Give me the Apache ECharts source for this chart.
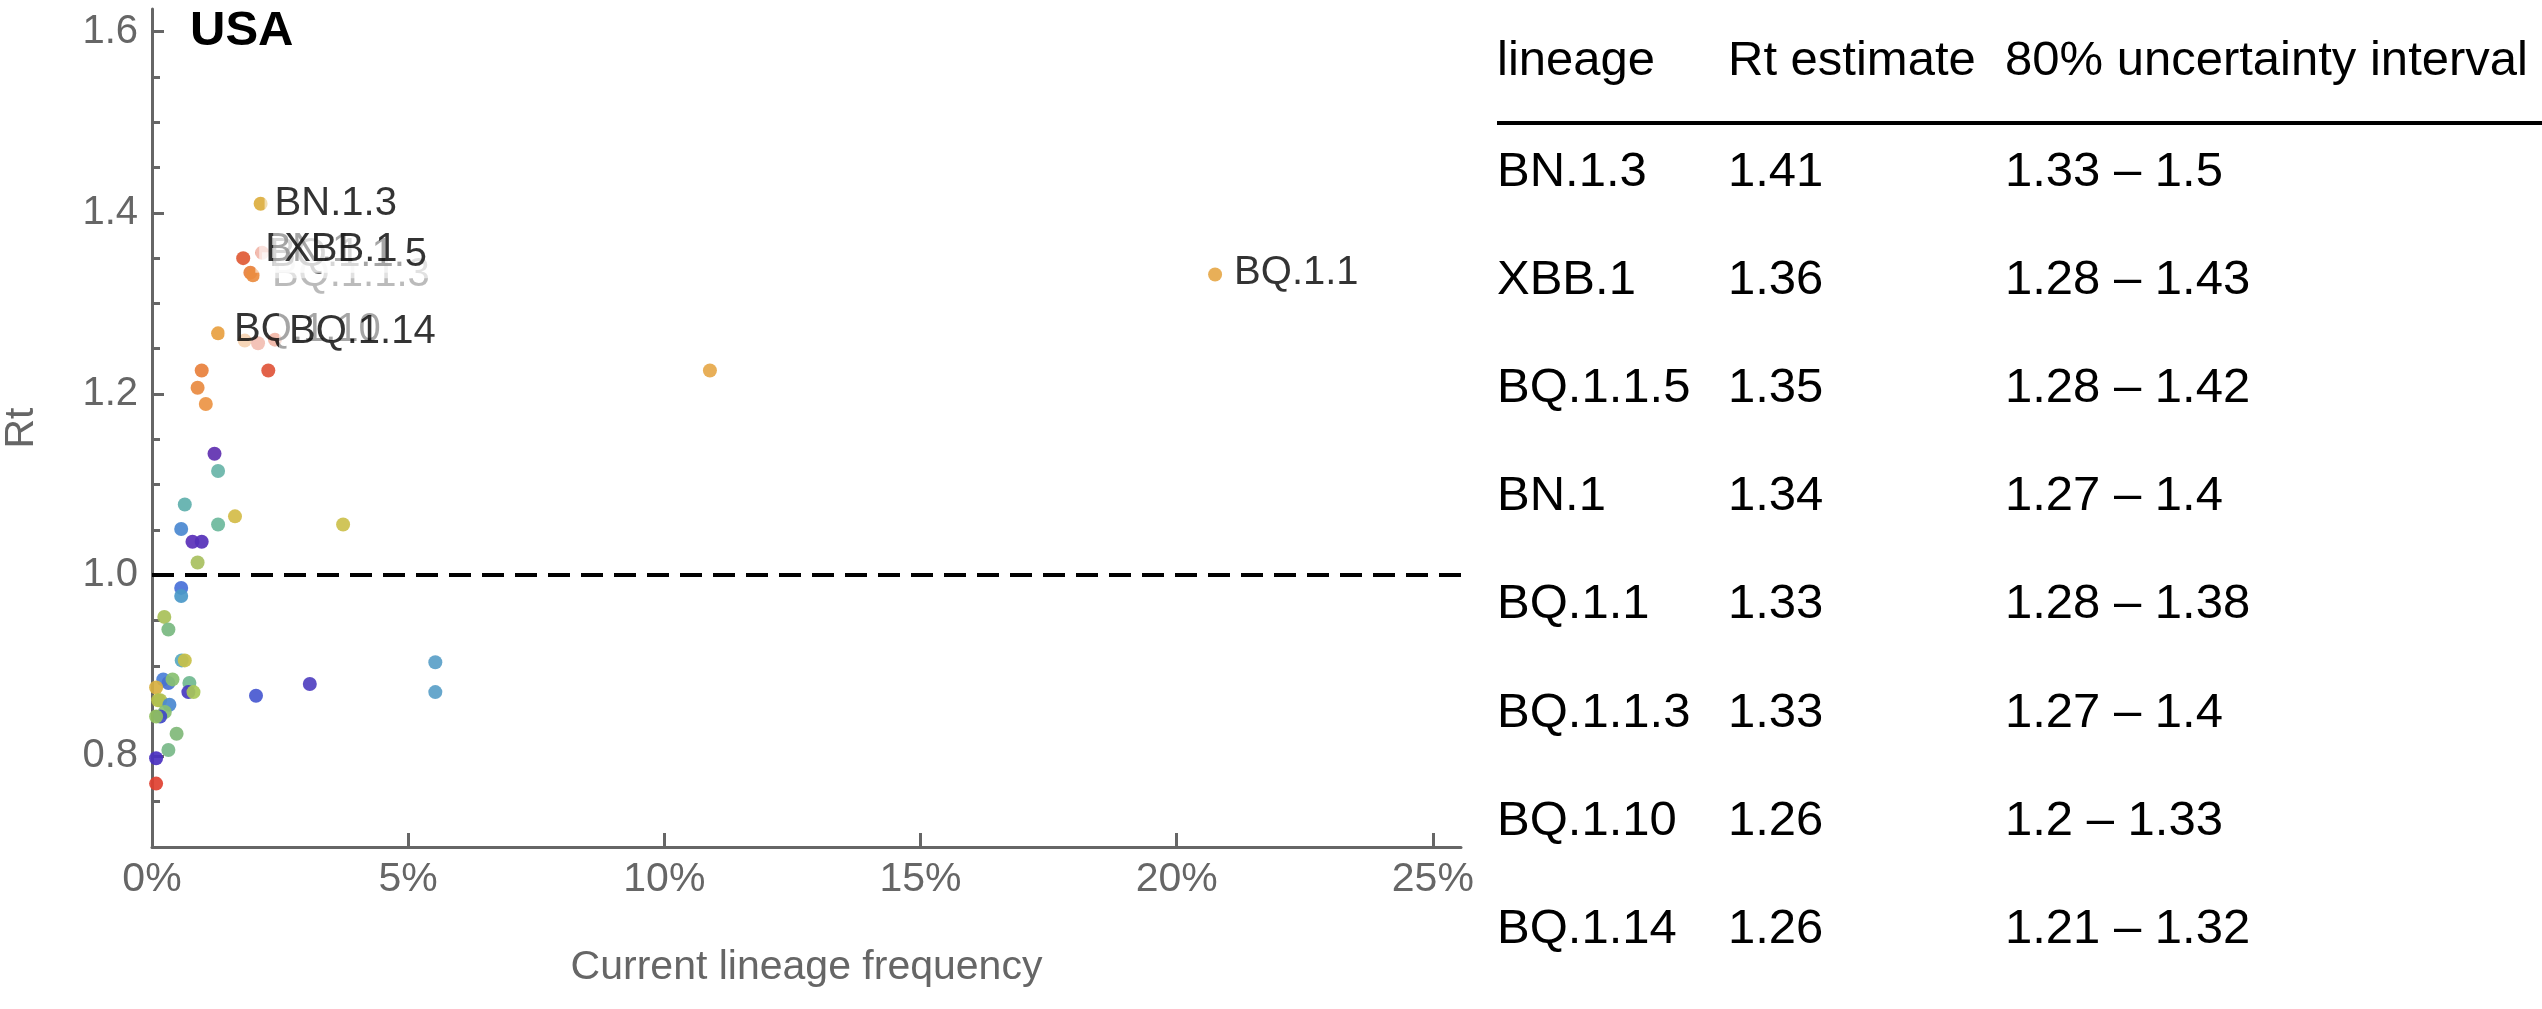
<!DOCTYPE html>
<html>
<head>
<meta charset="utf-8">
<script src="https://cdn.jsdelivr.net/npm/echarts@6/dist/echarts.min.js"></script>
<style>
html,body{margin:0;padding:0;background:#fff;}
#chart{width:2542px;height:1009px;}
</style>
</head>
<body>
<div id="chart"></div>
<script>
// ---------- DATA ----------
// Scatter points: current lineage frequency (%), Rt estimate, label ('' = unlabeled)
const pointFreq = [2.12, 2.15, 1.78, 1.92, 20.75, 1.97, 1.29, 2.40,
  0.97, 0.89, 1.05, 2.27, 1.22, 1.29, 0.64, 0.57, 1.29, 1.62, 10.89, 3.73,
  0.79, 0.97, 0.89, 0.57, 0.57, 0.24, 0.32, 0.58, 0.64, 0.22, 0.32, 0.40,
  0.73, 0.71, 0.81, 0.08, 0.12, 0.16, 0.34, 0.25, 0.16, 0.08, 0.48, 0.32,
  0.08, 0.08, 2.03, 3.08, 5.53, 5.53, 1.81, 2.07];
const pointRt = [1.410, 1.356, 1.350, 1.334, 1.332, 1.331, 1.267, 1.260,
  1.226, 1.207, 1.189, 1.226, 1.134, 1.115, 1.078, 1.051, 1.056, 1.065, 1.226, 1.056,
  1.037, 1.037, 1.014, 0.986, 0.977, 0.954, 0.940, 0.906, 0.906, 0.885, 0.881, 0.885,
  0.881, 0.871, 0.871, 0.876, 0.862, 0.862, 0.857, 0.849, 0.844, 0.844, 0.825, 0.807,
  0.798, 0.770, 0.867, 0.880, 0.904, 0.871, 1.259, 1.256];
const pointName = ['BN.1.3', 'XBB.1', 'BQ.1.1.5', 'BN.1', 'BQ.1.1', 'BQ.1.1.3', 'BQ.1.10', 'BQ.1.14'];

// Table
const tableHeader = ['lineage', 'Rt estimate', '80% uncertainty interval'];
const tableLineage = ['BN.1.3', 'XBB.1', 'BQ.1.1.5', 'BN.1', 'BQ.1.1', 'BQ.1.1.3', 'BQ.1.10', 'BQ.1.14'];
const tableRt = [1.41, 1.36, 1.35, 1.34, 1.33, 1.33, 1.26, 1.26];
const tableLow = [1.33, 1.28, 1.28, 1.27, 1.28, 1.27, 1.2, 1.21];
const tableHigh = [1.5, 1.43, 1.42, 1.4, 1.38, 1.4, 1.33, 1.32];

// Axis ticks
const xTicks = [0, 5, 10, 15, 20, 25];
const yTicks = [0.8, 1.0, 1.2, 1.4, 1.6];
const regionTitle = 'USA';

// ---------- STYLE ----------
const pointColors = ['#dcae3e', '#e0583a', '#e05a35', '#e8803c', '#e6a84a', '#ea8c40', '#e8a040', '#e05a35',
  '#e8803c', '#e88a40', '#ec9444', '#e0553a', '#6030b0', '#68b4a8', '#60b0ac', '#4a88d0', '#6cb89c', '#d4bc48', '#e6a84a', '#ccc04c',
  '#5a30b8', '#5530b8', '#a8c060', '#4870d8', '#4a98c8', '#a8c058', '#78b880', '#58a8c0', '#c8c048', '#4a80d8', '#4870d0', '#88c070',
  '#70b890', '#4838c0', '#a8c858', '#d8b040', '#b8c048', '#b0c050', '#4a88d0', '#88c070', '#4048c8', '#90c060', '#80b878', '#78b888',
  '#4a30c0', '#e04030', '#4858d0', '#5040c0', '#5aa0c8', '#5aa0c8', '#e89a50', '#e26a50'];
// label draw order and placement (later drawn on top)
const labelStyles = {
  'BQ.1.1.3': {dx: 2, dy: 0, pad: 10, color: '#aaaaaa'},
  'BQ.1.1.5': {dx: 9, dy: -3, pad: 10},
  'BN.1': {dx: -2, dy: -23, pad: 10},
  'XBB.1': {dx: 4, dy: -3, pad: 11},
  'BN.1.3': {dx: -3, dy: 0, pad: 10},
  'BQ.1.10': {dx: -1, dy: -3, pad: 10},
  'BQ.1.14': {dx: -3, dy: -8, pad: 10},
  'BQ.1.1': {dx: 2, dy: -1, pad: 10}
};

const FONT = '"Liberation Sans", Arial, Helvetica, sans-serif';
const AX = '#666666';

const yMinor = [];
for (let k = 15; k <= 32; k++) { const v = +(k * 0.05).toFixed(2); if (!yTicks.some(t => Math.abs(t - v) < 1e-9)) yMinor.push(v); }

const scatterData = pointFreq.map((f, i) => ({
  value: [f, pointRt[i]],
  itemStyle: {color: pointColors[i]}
}));

const labelData = Object.keys(labelStyles).map(name => {
  const i = pointName.indexOf(name);
  const s = labelStyles[name];
  return {
    value: [pointFreq[i], pointRt[i]],
    label: {
      formatter: name,
      offset: [s.dx, s.dy],
      padding: [0, 4, 0, s.pad],
      color: s.color || '#000000'
    }
  };
});

// Table graphics
const colX = [1497, 1728, 2005];
const graphics = [];
graphics.push({type: 'text', x: 190, y: 31, style: {text: regionTitle, font: 'bold 49px ' + FONT, fill: '#000', align: 'left', verticalAlign: 'middle'}});
tableHeader.forEach((h, c) => graphics.push({type: 'text', x: colX[c], y: 61, style: {text: h, font: '49px ' + FONT, fill: '#000', align: 'left', verticalAlign: 'middle'}}));
graphics.push({type: 'line', shape: {x1: 1497, y1: 123, x2: 2542, y2: 123}, style: {stroke: '#000', lineWidth: 4}});
tableLineage.forEach((name, r) => {
  const y = 172 + r * 108.2;
  const cells = [name, String(tableRt[r]), String(tableLow[r]) + ' \u2013 ' + String(tableHigh[r])];
  cells.forEach((t, c) => graphics.push({type: 'text', x: colX[c], y: y, style: {text: t, font: '49px ' + FONT, fill: '#000', align: 'left', verticalAlign: 'middle'}}));
});

const chart = echarts.init(document.getElementById('chart'), null, {renderer: 'canvas'});
chart.setOption({
  animation: false,
  backgroundColor: '#ffffff',
  textStyle: {fontFamily: FONT},
  grid: {left: 152, right: 1081, top: 9, bottom: 162, containLabel: false, outerBoundsMode: 'none'},
  xAxis: {
    type: 'value', min: 0, max: 25.55,
    axisLine: {show: true, lineStyle: {color: AX, width: 3}},
    axisTick: {show: true, inside: true, length: 14, lineStyle: {color: AX, width: 3}, customValues: xTicks},
    axisLabel: {customValues: xTicks, formatter: v => v + '%', fontSize: 41, color: AX, margin: 12, fontFamily: FONT},
    splitLine: {show: false},
    name: 'Current lineage frequency', nameLocation: 'middle', nameGap: 100,
    nameTextStyle: {fontSize: 41, color: AX, fontFamily: FONT}
  },
  yAxis: [{
    type: 'value', min: 0.7, max: 1.625,
    axisLine: {show: true, lineStyle: {color: AX, width: 3}},
    axisTick: {show: true, inside: true, length: 12, lineStyle: {color: AX, width: 3}, customValues: yTicks},
    axisLabel: {customValues: yTicks, formatter: v => v.toFixed(1), fontSize: 40, color: AX, margin: 14, fontFamily: FONT},
    splitLine: {show: false},
    name: 'Rt', nameLocation: 'middle', nameGap: 110, nameRotate: 90,
    nameTextStyle: {fontSize: 41, color: AX, fontFamily: FONT}
  }, {
    type: 'value', min: 0.7, max: 1.625, position: 'left',
    axisLine: {show: false},
    axisTick: {show: true, inside: true, length: 8, lineStyle: {color: AX, width: 3}, customValues: yMinor},
    axisLabel: {show: false},
    splitLine: {show: false}
  }],
  series: [{
    type: 'scatter',
    symbolSize: 14,
    itemStyle: {opacity: 0.92},
    data: scatterData,
    silent: true,
    markLine: {
      silent: true, symbol: ['none', 'none'], label: {show: false},
      lineStyle: {color: '#000', type: [22, 11], width: 4},
      data: [{yAxis: 1}]
    }
  }, {
    type: 'scatter',
    z: 5,
    symbolSize: 14,
    itemStyle: {color: 'rgba(0,0,0,0)'},
    silent: true,
    data: labelData,
    label: {
      show: true, position: 'right', distance: 0,
      fontSize: 40, fontFamily: FONT, lineHeight: 46,
      backgroundColor: 'rgba(255,255,255,0.7)'
    }
  }],
  graphic: graphics
});
</script>
</body>
</html>
